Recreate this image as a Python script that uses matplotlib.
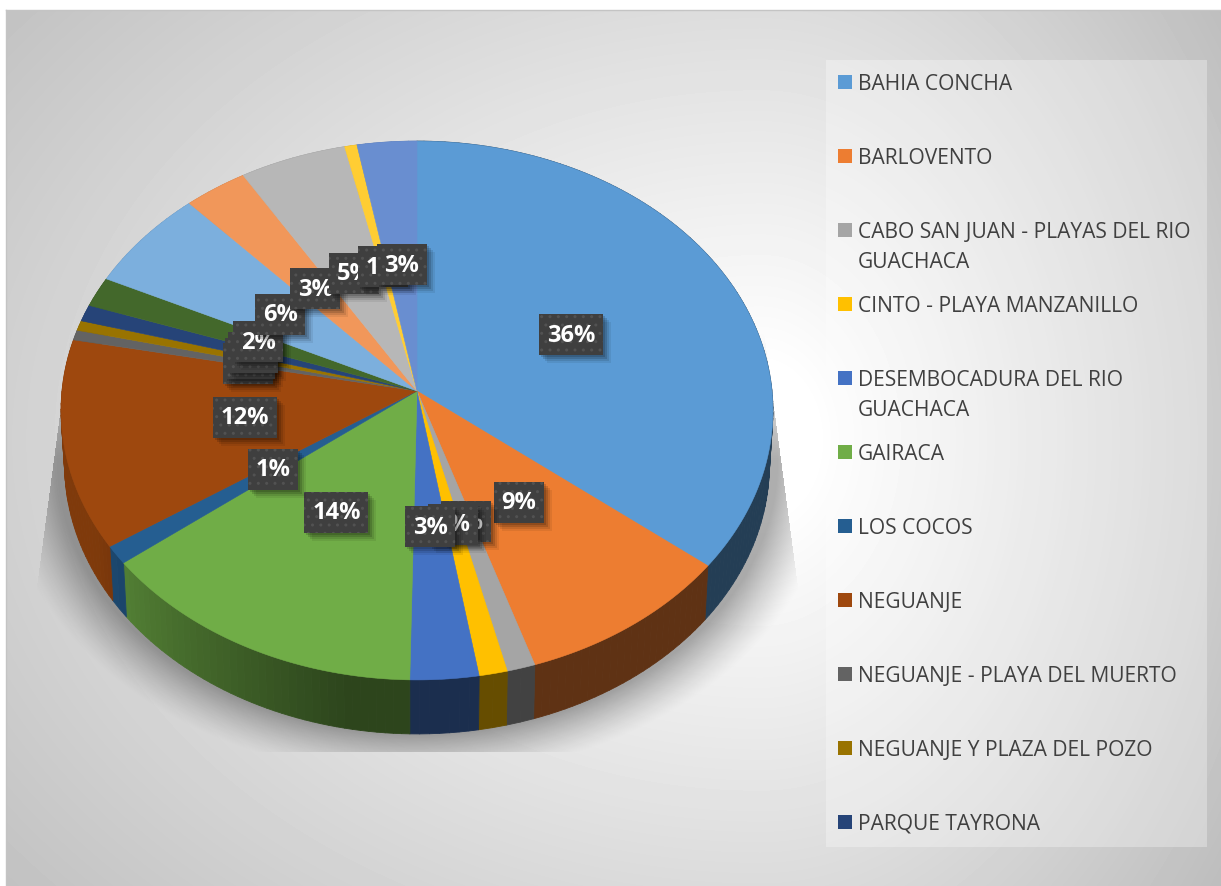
import numpy as np
import matplotlib
matplotlib.use('Agg')
import matplotlib.pyplot as plt
from matplotlib.collections import PolyCollection
from matplotlib.colors import to_rgb
from matplotlib.patches import Polygon, Rectangle

# legend only lists the first 11 categories, like the original
categories = ['BAHIA CONCHA', 'BARLOVENTO', 'CABO SAN JUAN - PLAYAS DEL RIO\nGUACHACA',
              'CINTO - PLAYA MANZANILLO', 'DESEMBOCADURA DEL RIO\nGUACHACA', 'GAIRACA',
              'LOS COCOS', 'NEGUANJE', 'NEGUANJE - PLAYA DEL MUERTO',
              'NEGUANJE Y PLAZA DEL POZO', 'PARQUE TAYRONA']
values = [35.7, 9.3, 1.2, 1.2, 2.9, 14.2, 1.1, 12.5, 0.6, 0.6, 1.0, 1.8, 6.1, 3.1, 5.2, 0.6, 2.9]
labels = ['36%', '9%', '1%', '1%', '3%', '14%', '1%', '12%', '1%', '1%', '1%', '2%', '6%', '3%', '5%', '1%', '3%']
colors = ['#5B9BD5', '#ED7D31', '#A5A5A5', '#FFC000', '#4472C4', '#70AD47', '#255E91', '#9E480E',
          '#636363', '#997300', '#264478', '#43682B', '#7CAFDD', '#F1975A', '#B7B7B7', '#FFCD33', '#698ED0']

W, H = 1221, 887
CX, CY = 417, 391
A, B, K = 355, 268, 0.0724
DEPTH = 54


def project(theta, r=1.0):
    # theta clockwise from the top, simple perspective tilt of the disc
    x = r * np.sin(theta)
    y = r * np.cos(theta)
    d = 1 + K * y
    return CX + A * x / d, CY - B * y / d


def background():
    yy, xx = np.mgrid[10:H, 6:W]
    dx = (xx - 760.0) / np.where(xx > 760, 470.0, 850.0)
    dy = (yy - 440.0) / 620.0
    r = np.hypot(dx, dy)
    return np.clip(262 - 60 * r, 0, 255) / 255.0


def shadow():
    yy, xx = np.mgrid[10:H, 6:W]
    r = np.hypot((xx - 417.0) / 360.0, (yy - 462.0) / 272.0)
    alpha = 0.32 * np.clip(1 - (r - 1) / 0.16, 0, 1) ** 1.3
    alpha *= np.clip((yy - 330) / 130.0, 0, 1)
    alpha *= (yy < 752)
    t = (yy - 380.0) / (575.0 - 380.0)
    half = 353 + 26 * t
    alpha *= np.abs(xx - 417.0) < half
    img = np.zeros(alpha.shape + (4,))
    img[..., 3] = alpha
    return img


fig = plt.figure(figsize=(W / 100, H / 100), dpi=100)
ax = fig.add_axes([0, 0, 1, 1])
ax.axis('off')

ax.imshow(background(), cmap='gray', vmin=0, vmax=1, extent=(6, W, H, 10), aspect='auto', zorder=0)
ax.imshow(shadow(), extent=(6, W, H, 10), aspect='auto', zorder=1)
ax.set_xlim(0, W)
ax.set_ylim(H - 1, -1)
ax.plot([6, W], [10, 10], color='#c4c4c4', lw=1, zorder=1)
ax.plot([6, 6], [10, H], color='#c4c4c4', lw=1, zorder=1)

edges = np.cumsum([0] + values) / sum(values) * 2 * np.pi

# side wall
for i, col in enumerate(colors):
    th = np.linspace(edges[i], edges[i + 1], max(3, int(values[i] * 3)))
    px, py = project(th)
    qx = CX + (px - CX) * 0.99
    qy = py + DEPTH
    quads = []
    shades = []
    base = np.array(to_rgb(col))
    for j in range(len(th) - 1):
        quads.append([(px[j], py[j]), (px[j + 1], py[j + 1]), (qx[j + 1], qy[j + 1]), (qx[j], qy[j])])
        deg = np.degrees(th[j])
        shades.append(base * np.interp(deg, [0, 190, 240, 360], [0.4, 0.4, 0.8, 0.85]))
    ax.add_collection(PolyCollection(quads, facecolors=shades, edgecolors=shades, linewidths=0.6, zorder=2))

# top face
for i, col in enumerate(colors):
    th = np.linspace(edges[i], edges[i + 1], max(3, int(values[i] * 6)))
    px, py = project(th)
    pts = [(CX, CY)] + list(zip(px, py))
    ax.add_patch(Polygon(pts, closed=True, fc=col, ec=col, lw=0.4, zorder=3))

# data labels, later ones sit on top of earlier ones
for i, lab in enumerate(labels):
    mid = (edges[i] + edges[i + 1]) / 2
    lx, ly = project(mid, 0.49)
    bw = 64 if len(lab) > 2 else 50
    bh = 41
    z = 4 + i * 0.1
    for off, al in [(8, 0.07), (6, 0.1), (4, 0.14), (2, 0.15)]:
        ax.add_patch(Rectangle((lx - bw / 2 + off, ly - bh / 2 + off), bw, bh, fc='black', alpha=al, lw=0, zorder=z))
    ax.add_patch(Rectangle((lx - bw / 2, ly - bh / 2), bw, bh, fc='#3f3f3f', ec='#525252', hatch='..', lw=0, zorder=z + 0.01))
    ax.text(lx, ly, lab, color='white', fontsize=17, fontweight='bold', family='Open Sans',
            ha='center', va='center', zorder=z + 0.02)

# legend panel
ax.add_patch(Rectangle((826, 60), 381, 787, fc='white', alpha=0.3, lw=0, zorder=1.5))
for i, cat in enumerate(categories):
    y = 82 + 74 * i
    ax.add_patch(Rectangle((838, y - 7), 14, 14, fc=colors[i], lw=0, zorder=2))
    for n, line in enumerate(cat.split('\n')):
        ax.text(858, y + 1 + 30 * n, line, color='#404040', fontsize=15.1, family='Open Sans',
                ha='left', va='center', zorder=2)

fig.savefig('out.png', dpi=100)
